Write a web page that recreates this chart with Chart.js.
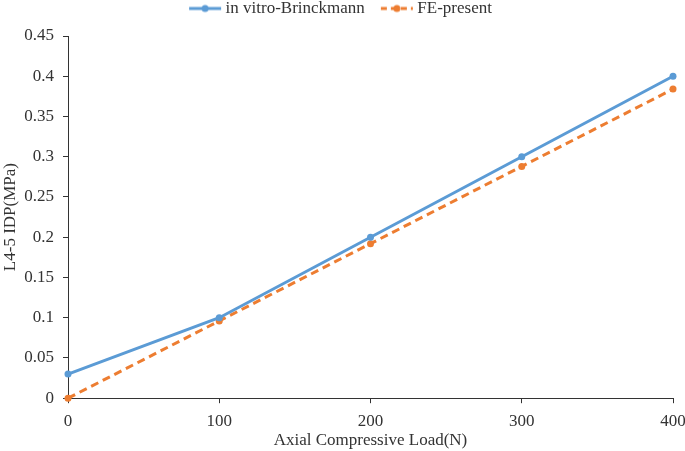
<!DOCTYPE html>
<html>
<head>
<meta charset="utf-8">
<script src="https://cdn.jsdelivr.net/npm/chart.js@4.4.1/dist/chart.umd.min.js"></script>
<style>
  html, body { margin: 0; padding: 0; background: #fff; }
  #wrap { width: 685px; height: 451px; }
</style>
</head>
<body>
<div id="wrap"><canvas id="myChart"></canvas></div>
<script>
const loads = [0, 100, 200, 300, 400];
const invitro = [0.03, 0.1, 0.2, 0.3, 0.4];
const fePresent = [0, 0.096, 0.192, 0.288, 0.384];
const seriesNames = ['in vitro-Brinckmann', 'FE-present'];

const blue = '#5B9BD5';
const orange = '#ED7D31';
const txt = '#333333';
const serif = 'Liberation Serif';

// legend marker: short line with a dot in the middle
function legendIcon(color, dashed) {
  let c = document.createElement('canvas');
  c.width = 34; c.height = 10;
  let g = c.getContext('2d');
  g.strokeStyle = color;
  g.lineWidth = 3;
  if (dashed) g.setLineDash([6, 4]);
  g.beginPath();
  g.moveTo(1, 5); g.lineTo(33, 5);
  g.stroke();
  g.fillStyle = color;
  g.beginPath();
  g.arc(17, 5, 3.5, 0, Math.PI * 2);
  g.fill();
  return c;
}

// push the plot down a bit below the legend
const legendGap = {
  id: 'legendGap',
  beforeInit(chart) {
    const fit = chart.legend.fit;
    chart.legend.fit = function () {
      fit.bind(chart.legend)();
      this.height += 9;
    };
  },
};

let ctx = document.getElementById('myChart');

const data = {
  datasets: [
    {
      label: seriesNames[0],
      data: loads.map((x, i) => ({x: x, y: invitro[i]})),
      borderColor: blue,
      backgroundColor: blue,
      borderWidth: 3,
      pointRadius: 3.5,
      pointBorderWidth: 0,
      fill: false,
      tension: 0,
    },
    {
      label: seriesNames[1],
      data: loads.map((x, i) => ({x: x, y: fePresent[i]})),
      borderColor: orange,
      backgroundColor: orange,
      borderWidth: 3,
      borderDash: [8, 5],
      pointRadius: 3.5,
      pointBorderWidth: 0,
      fill: false,
      tension: 0,
    },
  ],
};

const config = {
  type: 'line',
  data: data,
  plugins: [legendGap],
  options: {
    responsive: true,
    maintainAspectRatio: false,
    animation: false,
    clip: false,
    layout: { padding: { left: 0, right: 0, top: -20, bottom: 0 } },
    plugins: {
      legend: {
        position: 'top',
        labels: {
          usePointStyle: true,
          pointStyleWidth: 24,
          color: txt,
          padding: 20,
          font: { family: serif, size: 17 },
          generateLabels: (chart) => chart.data.datasets.map((ds, i) => ({
            text: ds.label,
            fontColor: txt,
            pointStyle: legendIcon(ds.borderColor, i === 1),
            datasetIndex: i,
            lineWidth: 0,
          })),
        },
      },
      tooltip: { enabled: false },
    },
    scales: {
      x: {
        type: 'linear',
        min: 0,
        max: 400,
        afterFit: (scale) => { scale.paddingRight = 12; },
        ticks: {
          stepSize: 100,
          color: txt,
          font: { family: serif, size: 17 },
          padding: 8,
        },
        grid: { display: true, drawOnChartArea: false, drawTicks: true, tickLength: 5, color: '#333' },
        border: { color: '#333', width: 1 },
        title: {
          display: true,
          text: 'Axial Compressive Load(N)',
          color: txt,
          font: { family: serif, size: 17 },
          padding: { top: -9, bottom: 0 },
        },
      },
      y: {
        min: 0,
        max: 0.45,
        afterFit: (scale) => { scale.width = 68; },
        ticks: {
          stepSize: 0.05,
          color: txt,
          font: { family: serif, size: 17 },
          padding: 9,
          callback: (v) => String(parseFloat(v.toFixed(2))),
        },
        grid: { display: true, drawOnChartArea: false, drawTicks: true, tickLength: 5, color: '#333' },
        border: { color: '#333', width: 1 },
        title: {
          display: true,
          text: 'L4-5 IDP(MPa)',
          color: txt,
          font: { family: serif, size: 17 },
          padding: { top: 0, bottom: 4 },
        },
      },
    },
  },
};

const myChart = new Chart(ctx, config);
</script>
</body>
</html>
